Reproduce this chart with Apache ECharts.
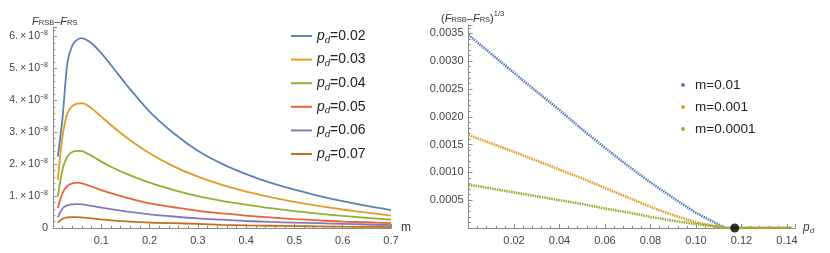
<!DOCTYPE html>
<html>
<head>
<meta charset="utf-8">
<script src="https://cdn.jsdelivr.net/npm/echarts@6/dist/echarts.min.js"></script>
<style>
html,body{margin:0;padding:0;background:#fff;}
#chart{width:830px;height:253px;}
</style>
</head>
<body>
<div id="chart"></div>
<script>
// ---------- Left panel data: F_RSB - F_RS (units of 1e-8) vs m ----------
const mValues = [0.01,0.02,0.03,0.04,0.05,0.06,0.07,0.08,0.10,0.12,0.15,0.20,0.25,0.30,0.35,0.40,0.45,0.50,0.55,0.60,0.65,0.70];
const pdLabels = ['0.02','0.03','0.04','0.05','0.06','0.07'];
const fPd002 = [2.24,3.50,5.20,5.72,5.90,5.95,5.89,5.79,5.48,5.11,4.53,3.65,2.97,2.42,2.01,1.69,1.42,1.20,1.01,0.84,0.69,0.56];
const fPd003 = [1.50,2.90,3.60,3.82,3.90,3.91,3.86,3.75,3.49,3.23,2.86,2.34,1.93,1.61,1.35,1.14,0.97,0.82,0.69,0.58,0.48,0.39];
const fPd004 = [0.98,1.85,2.25,2.38,2.42,2.41,2.34,2.26,2.08,1.92,1.71,1.42,1.19,1.00,0.85,0.73,0.62,0.53,0.45,0.38,0.32,0.26];
const fPd005 = [0.62,1.10,1.32,1.40,1.42,1.40,1.35,1.30,1.19,1.09,0.96,0.77,0.65,0.54,0.46,0.39,0.33,0.28,0.24,0.20,0.18,0.15];
const fPd006 = [0.33,0.62,0.71,0.74,0.75,0.74,0.72,0.69,0.64,0.59,0.52,0.43,0.36,0.30,0.26,0.22,0.19,0.17,0.15,0.13,0.11,0.09];
const fPd007 = [0.17,0.29,0.33,0.34,0.34,0.33,0.32,0.30,0.27,0.24,0.21,0.17,0.15,0.13,0.10,0.08,0.07,0.06,0.05,0.04,0.035,0.03];
const leftSeriesValues = [fPd002,fPd003,fPd004,fPd005,fPd006,fPd007];
const leftXTicks = [0.1,0.2,0.3,0.4,0.5,0.6,0.7];
const leftYTicks = [0,1,2,3,4,5,6];

// ---------- Right panel data: (F_RSB - F_RS)^(1/3) (units of 1e-3) vs p_d ----------
const pdValues = [0,0.01,0.02,0.03,0.04,0.05,0.06,0.07,0.08,0.09,0.10,0.11,0.113,0.12,0.13,0.142];
const mLabels = ['m=0.01','m=0.001','m=0.0001'];
const gM001   = [3.47,3.13,2.79,2.45,2.12,1.77,1.44,1.12,0.82,0.54,0.27,0.06,0,0,0,0];
const gM0001  = [1.67,1.52,1.37,1.21,1.05,0.89,0.72,0.55,0.38,0.23,0.10,0.02,0,0,0,0];
const gM00001 = [0.78,0.71,0.64,0.57,0.50,0.43,0.35,0.28,0.20,0.13,0.07,0.02,0,0,0,0];
const rightSeriesValues = [gM001,gM0001,gM00001];
const criticalPoint = [[0.117, 0]];
const rightXTicks = [0.02,0.04,0.06,0.08,0.10,0.12,0.14];
const rightYTicks = [0.5,1.0,1.5,2.0,2.5,3.0,3.5];

const palette = ['#5E81B5','#E19C24','#8FB032','#EB6235','#8778B3','#C56E1A'];
const FONT = 'Liberation Sans';
const AXIS_COLOR = '#8a8a8a';
const LABEL_COLOR = '#444';

function near(v, list){ return list.some(t => Math.abs(t - v) < 1e-9); }

const chart = echarts.init(document.getElementById('chart'), null, {renderer:'canvas'});

const leftSeries = leftSeriesValues.map((vals, i) => ({
  name: 'p_d=' + pdLabels[i],
  type: 'line',
  xAxisIndex: 0, yAxisIndex: 0,
  data: vals.map((v, k) => [mValues[k], v]),
  smooth: 0.3,
  symbol: 'none',
  lineStyle: {width: 1.8, color: palette[i]},
  itemStyle: {color: palette[i]},
  z: 10 - i
}));

const rightSeries = rightSeriesValues.map((vals, i) => ({
  name: mLabels[i],
  type: 'line',
  xAxisIndex: 2, yAxisIndex: 2,
  data: vals.map((v, k) => [pdValues[k], v]),
  symbol: 'none',
  lineStyle: {width: 2.6, color: palette[i], type: [1.5, 0.9], cap: 'butt'},
  itemStyle: {color: palette[i]},
  z: 5 + i
}));

const majorTick = {show: true, inside: true, length: 4, lineStyle: {color: AXIS_COLOR, width: 1}};
const minorTickStyle = {show: true, inside: true, length: 2.3, lineStyle: {color: AXIS_COLOR, width: 1}};

function minorAxis(grid, min, max, step, pos){
  return {
    type: 'value', gridIndex: grid, min: min, max: max, interval: step, position: pos,
    axisLine: {show: false}, axisLabel: {show: false}, splitLine: {show: false},
    axisTick: minorTickStyle
  };
}

const titleRich = {
  f: {fontFamily: FONT, fontStyle: 'italic', fontWeight: 'normal', fontSize: 11, color: '#333', verticalAlign: 'bottom', lineHeight: 14},
  s: {fontFamily: FONT, fontWeight: 'normal', fontSize: 7.5, color: '#333', verticalAlign: 'bottom', lineHeight: 12},
  m: {fontFamily: FONT, fontWeight: 'normal', fontSize: 11, color: '#333', verticalAlign: 'bottom', lineHeight: 14},
  p: {fontFamily: FONT, fontWeight: 'normal', fontSize: 7.5, color: '#333', verticalAlign: 'top', lineHeight: 9}
};

const option = {
  animation: false,
  backgroundColor: '#fff',
  textStyle: {fontFamily: FONT},
  title: [
    {
      left: 27, top: 8,
      text: '{f|F}{s|RSB}{m|–}{f|F}{s|RS}',
      textStyle: {fontWeight: 'normal', rich: titleRich}
    },
    {
      left: 436, top: 5,
      text: '{m|(}{f|F}{s|RSB}{m|–}{f|F}{s|RS}{m|)}{p|1/3}',
      textStyle: {fontWeight: 'normal', rich: titleRich}
    }
  ],
  legend: [
    {
      data: leftSeries.map(s => s.name),
      orient: 'vertical', left: 286, top: 24,
      icon: 'rect', itemWidth: 21, itemHeight: 2, itemGap: 7.6,
      formatter: name => '{i|p}{s|d}{n|' + name.slice(3) + '}',
      textStyle: {
        rich: {
          i: {fontFamily: FONT, fontStyle: 'italic', fontSize: 14, color: '#222', lineHeight: 18, verticalAlign: 'middle'},
          s: {fontFamily: FONT, fontStyle: 'italic', fontSize: 9.5, color: '#222', lineHeight: 10, verticalAlign: 'bottom'},
          n: {fontFamily: FONT, fontSize: 14, color: '#222', lineHeight: 18, verticalAlign: 'middle'}
        }
      }
    },
    {
      data: mLabels,
      orient: 'vertical', left: 676, top: 71,
      icon: 'circle', itemWidth: 14, itemHeight: 4, itemGap: 4,
      textStyle: {fontFamily: FONT, fontSize: 13.5, color: '#222', lineHeight: 18}
    }
  ],
  grid: [
    {left: 53, top: 27, width: 338, height: 201, containLabel: false, outerBoundsMode: 'none'},
    {left: 468.5, top: 25, width: 326.5, height: 203, containLabel: false, outerBoundsMode: 'none'}
  ],
  xAxis: [
    {
      type: 'value', gridIndex: 0, min: 0, max: 0.7, interval: 0.1, position: 'bottom',
      name: 'm', nameLocation: 'end', nameGap: 10,
      nameTextStyle: {fontFamily: FONT, fontSize: 12, color: '#333', verticalAlign: 'middle'},
      axisLine: {lineStyle: {color: AXIS_COLOR, width: 1}},
      axisTick: majorTick,
      splitLine: {show: false},
      axisLabel: {
        color: LABEL_COLOR, fontSize: 11, margin: 7, fontFamily: FONT,
        formatter: v => near(v, leftXTicks) ? v.toFixed(1) : ''
      }
    },
    minorAxis(0, 0, 0.7, 0.02, 'bottom'),
    {
      type: 'value', gridIndex: 1, min: 0, max: 0.1435, interval: 0.02, position: 'bottom',
      name: '{i|p}{s|d}', nameLocation: 'end', nameGap: 8,
      nameTextStyle: {
        rich: {
          i: {fontFamily: FONT, fontStyle: 'italic', fontSize: 12, color: '#444', lineHeight: 14, verticalAlign: 'middle'},
          s: {fontFamily: FONT, fontStyle: 'italic', fontSize: 8, color: '#444', lineHeight: 8, verticalAlign: 'bottom'}
        }
      },
      axisLine: {lineStyle: {color: AXIS_COLOR, width: 1}},
      axisTick: majorTick,
      splitLine: {show: false},
      axisLabel: {
        color: LABEL_COLOR, fontSize: 11, margin: 7, fontFamily: FONT,
        formatter: v => near(v, rightXTicks) ? v.toFixed(2) : ''
      }
    },
    minorAxis(1, 0, 0.1435, 0.004, 'bottom')
  ],
  yAxis: [
    {
      type: 'value', gridIndex: 0, min: 0, max: 6.3, interval: 1, position: 'left',
      axisLine: {show: true, lineStyle: {color: AXIS_COLOR, width: 1}},
      axisTick: majorTick,
      splitLine: {show: false},
      axisLabel: {
        color: LABEL_COLOR, fontSize: 10.5, margin: 5, fontFamily: FONT,
        formatter: v => {
          if (!near(v, leftYTicks)) return '';
          if (v === 0) return '{z|0}';
          return '{a|' + Math.round(v) + '.\u2009×\u200910}{b|−8}';
        },
        rich: {
          z: {fontFamily: FONT, fontSize: 11, color: LABEL_COLOR, lineHeight: 14, verticalAlign: 'middle'},
          a: {fontFamily: FONT, fontSize: 10.5, color: LABEL_COLOR, lineHeight: 14, verticalAlign: 'middle'},
          b: {fontFamily: FONT, fontSize: 7, color: LABEL_COLOR, lineHeight: 8, verticalAlign: 'top'}
        }
      }
    },
    minorAxis(0, 0, 6.3, 0.2, 'left'),
    {
      type: 'value', gridIndex: 1, min: 0, max: 3.65, interval: 0.5, position: 'left',
      axisLine: {show: true, lineStyle: {color: AXIS_COLOR, width: 1}},
      axisTick: majorTick,
      splitLine: {show: false},
      axisLabel: {
        color: LABEL_COLOR, fontSize: 11, margin: 5, fontFamily: FONT,
        formatter: v => near(v, rightYTicks) ? (v / 1000).toFixed(4) : ''
      }
    },
    minorAxis(1, 0, 3.65, 0.1, 'left')
  ],
  series: leftSeries.concat(rightSeries).concat([{
    name: 'critical',
    type: 'scatter',
    xAxisIndex: 2, yAxisIndex: 2,
    data: criticalPoint,
    symbolSize: 9,
    itemStyle: {color: '#000'},
    z: 20
  }])
};

chart.setOption(option);
</script>
</body>
</html>
